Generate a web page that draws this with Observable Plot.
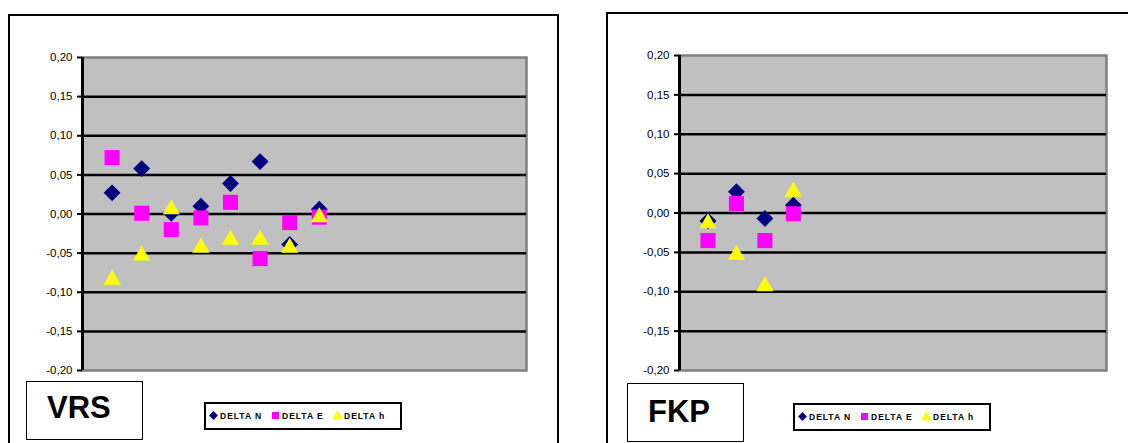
<!DOCTYPE html>
<html>
<head>
<meta charset="utf-8">
<script src="https://cdn.jsdelivr.net/npm/d3@7"></script>
<script src="https://cdn.jsdelivr.net/npm/@observablehq/plot@0.6"></script>
<style>
  html, body { margin: 0; padding: 0; background: #fff; }
  body { width: 1128px; height: 443px; overflow: hidden; position: relative;
         font-family: Arial, "Liberation Sans", sans-serif; }
  .frame { position: absolute; border: 2px solid #000; box-sizing: border-box; }
  .chart { position: absolute; top: 0; }
  .label { position: absolute; border: 1.5px solid #000; box-sizing: border-box; background: #fff; }
  .label span { position: absolute; font-weight: bold; font-size: 31px; line-height: 30px; color: #000; }
  .legend { position: absolute; border: 2.5px solid #000; box-sizing: border-box; background: #fff; height: 28px; }
  .legend .item { position: absolute; top: 0; height: 23px; display: flex; align-items: center; }
  .legend .item svg { display: block; margin-right: 2px; }
  .legend .item span { font-weight: bold; font-size: 8.5px; letter-spacing: 1px; color: #000; white-space: nowrap; }
</style>
</head>
<body>
<script>
// ---- data ----
const pointIds = [1, 2, 3, 4, 5, 6, 7, 8];
const vrsN = [0.027, 0.058, 0.001, 0.010, 0.039, 0.067, -0.039, 0.006];
const vrsE = [0.072, 0.001, -0.020, -0.005, 0.015, -0.057, -0.011, -0.004];
const vrsH = [-0.081, -0.050, 0.009, -0.040, -0.030, -0.030, -0.040, -0.001];
const fkpIds = [1, 2, 3, 4];
const fkpN = [-0.010, 0.027, -0.007, 0.010];
const fkpE = [-0.035, 0.012, -0.035, -0.001];
const fkpH = [-0.010, -0.050, -0.090, 0.030];
const yTicks = [-0.20, -0.15, -0.10, -0.05, 0.00, 0.05, 0.10, 0.15, 0.20];
const seriesNames = ["DELTA N", "DELTA E", "DELTA h"];
const seriesColors = ["#000080", "#ff00ff", "#ffff00"];
const seriesSymbols = ["diamond2", "square", "triangle"];
const chartTitles = ["VRS", "FKP"];

const fmt = d => d.toFixed(2).replace(".", ",");

function rows(ids, vals) { return ids.map((x, i) => ({x, y: vals[i]})); }

function makeChart(ids, n, e, h, width, marginLeft, marginRight, marginTop, marginBottom) {
  const series = [n, e, h];
  const sizes = [7.6, 8.5, 6.4];
  const dys = [0, 0, 2.4];
  return Plot.plot({
    width, height: 443, marginLeft, marginRight, marginTop, marginBottom,
    style: {background: "transparent", fontFamily: "Arial, 'Liberation Sans', sans-serif", color: "#000", overflow: "visible"},
    x: {domain: [0, 15], axis: null},
    y: {domain: [-0.2, 0.2], axis: null},
    marks: [
      Plot.frame({fill: "#c0c0c0", stroke: "#808080", strokeWidth: 2.5}),
      Plot.ruleY(yTicks.filter(t => Math.abs(t) < 0.2), {stroke: "#000", strokeWidth: 2.5}),
      Plot.ruleX([0], {stroke: "#000", strokeWidth: 3}),
      Plot.axisY({ticks: yTicks, tickFormat: fmt, tickSize: 5, tickPadding: 5, strokeWidth: 2, fontSize: 11.5, label: null, fill: "#000"}),
      ...series.map((vals, i) => Plot.dot(rows(ids, vals), {
        x: "x", y: "y", symbol: () => seriesSymbols[i], r: sizes[i], dy: dys[i],
        fill: seriesColors[i], stroke: "none"
      }))
    ]
  });
}

function addChart(svg, left) {
  const div = document.createElement("div");
  div.className = "chart";
  div.style.left = left + "px";
  div.appendChild(svg);
  document.body.appendChild(div);
}

function addBox(cls, left, top, width, height) {
  const d = document.createElement("div");
  d.className = cls;
  Object.assign(d.style, {left: left + "px", top: top + "px", width: width + "px", height: height + "px"});
  document.body.appendChild(d);
  return d;
}

function addLegend(left, top) {
  const lg = addBox("legend", left, top, 198, 28);
  const d3sym = [d3.symbolDiamond2, d3.symbolSquare, d3.symbolTriangle];
  const symSizes = [50, 50, 50];
  seriesNames.forEach((name, i) => {
    const item = document.createElement("div");
    item.className = "item";
    item.style.left = (3 + i * 62) + "px";
    const svg = d3.create("svg").attr("width", 9).attr("height", 9);
    svg.append("path").attr("transform", i === 2 ? "translate(4.5,5.5)" : "translate(4.5,4.5)")
      .attr("d", d3.symbol(d3sym[i], symSizes[i])()).attr("fill", seriesColors[i]);
    item.appendChild(svg.node());
    const s = document.createElement("span");
    s.textContent = name;
    item.appendChild(s);
    lg.appendChild(item);
  });
}

// frames
addBox("frame", 8, 14, 551, 460);
addBox("frame", 606, 12, 560, 460);

// charts
addChart(makeChart(pointIds, vrsN, vrsE, vrsH, 560, 82, 34, 57, 73), 0);
addChart(makeChart(fkpIds, fkpN, fkpE, fkpH, 531, 82, 22, 55, 73), 597);

// title boxes
const b1 = addBox("label", 26, 381, 117, 59);
b1.innerHTML = `<span style="left:20px;top:11px">${chartTitles[0]}</span>`;
const b2 = addBox("label", 627, 383, 117, 59);
b2.innerHTML = `<span style="left:20px;top:13px">${chartTitles[1]}</span>`;

// legends
addLegend(204, 402);
addLegend(793, 403);
</script>
</body>
</html>
